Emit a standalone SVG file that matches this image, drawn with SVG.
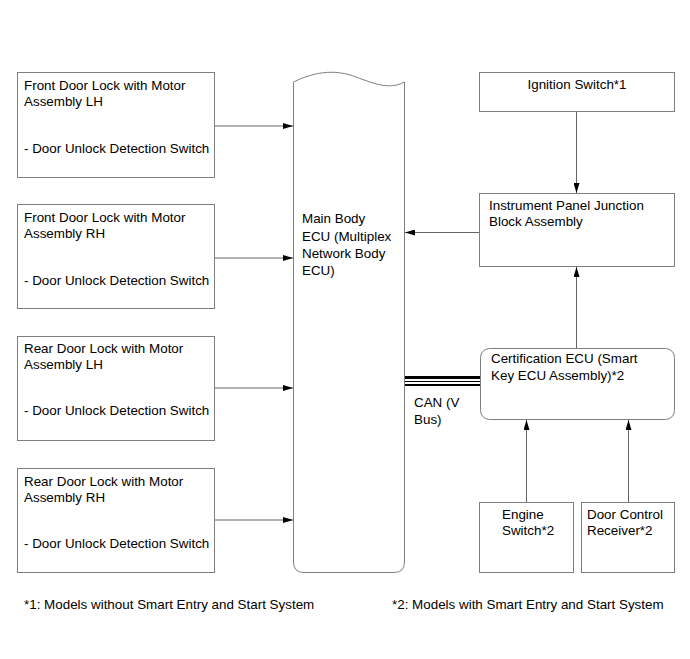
<svg xmlns="http://www.w3.org/2000/svg" width="690" height="659" viewBox="0 0 690 659">
<style>
.box{fill:#fff;stroke:#7f7f7f;stroke-width:1}
.t{font-family:"Liberation Sans",Arial,sans-serif;font-size:13.4px;fill:#000}
.c{stroke:#666;stroke-width:1;fill:none}
</style>
<defs>
<marker id="ah" viewBox="0 0 10 6" refX="10" refY="3" markerWidth="10" markerHeight="6" markerUnits="userSpaceOnUse" orient="auto">
<path d="M0,0 L10,3 L0,6 Z" fill="#000"/>
</marker>
</defs>
<rect width="690" height="659" fill="#fff"/>
<g id="fl">
<rect class="box" x="17.5" y="72.5" width="197" height="105"/>
<text class="t" x="24" y="90">Front Door Lock with Motor</text>
<text class="t" x="24" y="106">Assembly LH</text>
<text class="t" x="24" y="153">- Door Unlock Detection Switch</text>
</g>
<g id="fr">
<rect class="box" x="17.5" y="204.5" width="197" height="104"/>
<text class="t" x="24" y="222">Front Door Lock with Motor</text>
<text class="t" x="24" y="238">Assembly RH</text>
<text class="t" x="24" y="285">- Door Unlock Detection Switch</text>
</g>
<g id="rl">
<rect class="box" x="17.5" y="336.5" width="197" height="104"/>
<text class="t" x="24" y="353">Rear Door Lock with Motor</text>
<text class="t" x="24" y="369">Assembly LH</text>
<text class="t" x="24" y="415">- Door Unlock Detection Switch</text>
</g>
<g id="rr">
<rect class="box" x="17.5" y="468.5" width="197" height="104"/>
<text class="t" x="24" y="486">Rear Door Lock with Motor</text>
<text class="t" x="24" y="502">Assembly RH</text>
<text class="t" x="24" y="548">- Door Unlock Detection Switch</text>
</g>
<g id="ecu">
<path class="box" d="M293.5,82 C318,70 338,70 356,77 C375,84 390,90 404.5,82 L404.5,562 Q404.5,572.5 394,572.5 L304,572.5 Q293.5,572.5 293.5,562 Z"/>
<text class="t" x="302" y="223">Main Body</text>
<text class="t" x="302" y="241">ECU (Multiplex</text>
<text class="t" x="302" y="258">Network Body</text>
<text class="t" x="302" y="275">ECU)</text>
</g>
<g id="ign">
<rect class="box" x="479.5" y="72.5" width="195" height="39"/>
<text class="t" x="577" y="89" text-anchor="middle">Ignition Switch*1</text>
</g>
<g id="ipjb">
<rect class="box" x="479.5" y="193.5" width="195" height="73"/>
<text class="t" x="489" y="210">Instrument Panel Junction</text>
<text class="t" x="489" y="226">Block Assembly</text>
</g>
<g id="cert">
<rect class="box" x="480.5" y="348.5" width="194" height="71" rx="9" ry="9"/>
<text class="t" x="491" y="363">Certification ECU (Smart</text>
<text class="t" x="491" y="380">Key ECU Assembly)*2</text>
</g>
<g id="eng">
<rect class="box" x="479.5" y="502.5" width="94" height="70"/>
<text class="t" x="502" y="519">Engine</text>
<text class="t" x="502" y="535">Switch*2</text>
</g>
<g id="dcr">
<rect class="box" x="581.5" y="502.5" width="93" height="70"/>
<text class="t" x="587" y="519">Door Control</text>
<text class="t" x="587" y="535">Receiver*2</text>
</g>
<g id="connectors">
<line class="c" x1="215" y1="126" x2="293" y2="126" marker-end="url(#ah)"/>
<line class="c" x1="215" y1="258" x2="293" y2="258" marker-end="url(#ah)"/>
<line class="c" x1="215" y1="388" x2="293" y2="388" marker-end="url(#ah)"/>
<line class="c" x1="215" y1="520" x2="293" y2="520" marker-end="url(#ah)"/>
<line class="c" x1="576.5" y1="112" x2="576.5" y2="193" marker-end="url(#ah)"/>
<line class="c" x1="479" y1="232.5" x2="405" y2="232.5" marker-end="url(#ah)"/>
<line class="c" x1="576.5" y1="348" x2="576.5" y2="267" marker-end="url(#ah)"/>
<line class="c" x1="526.5" y1="502" x2="526.5" y2="420" marker-end="url(#ah)"/>
<line class="c" x1="628.5" y1="502" x2="628.5" y2="420" marker-end="url(#ah)"/>
<line x1="405" y1="377.5" x2="480" y2="377.5" stroke="#000" stroke-width="3"/>
<line x1="405" y1="381.5" x2="480" y2="381.5" stroke="#000" stroke-width="1"/>
<line x1="405" y1="385" x2="480" y2="385" stroke="#000" stroke-width="2"/>
<text class="t" x="414" y="407">CAN (V</text>
<text class="t" x="414" y="424">Bus)</text>
</g>
<text class="t" x="24" y="609">*1: Models without Smart Entry and Start System</text>
<text class="t" x="392" y="609">*2: Models with Smart Entry and Start System</text>
</svg>
